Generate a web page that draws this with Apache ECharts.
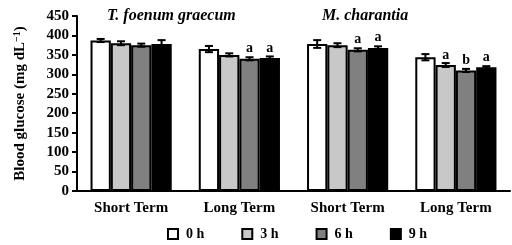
<!DOCTYPE html>
<html>
<head>
<meta charset="utf-8">
<script src="https://cdn.jsdelivr.net/npm/echarts@6/dist/echarts.min.js"></script>
<style>
  html, body { margin: 0; padding: 0; background: #fff; }
  #chart { width: 512px; height: 245px; }
</style>
</head>
<body>
<div id="chart"></div>
<script>
const categories = ["Short Term", "Long Term", "Short Term", "Long Term"];
const times = ["0 h", "3 h", "6 h", "9 h"];
const yTicks = [0, 50, 100, 150, 200, 250, 300, 350, 400, 450];

// mean blood glucose per time point, one value per group
const h0 = [387, 365, 378, 344];
const h3 = [380, 350, 375, 324];
const h6 = [375, 340, 363, 310];
const h9 = [378, 342, 368, 318];
// standard errors
const se0 = [4, 8, 10, 8];
const se3 = [5, 4, 5, 5];
const se6 = [4, 4, 4, 4];
const se9 = [10, 4, 4, 3];
// significance letters
const let0 = ["", "", "", ""];
const let3 = ["", "", "", "a"];
const let6 = ["", "a", "a", "b"];
const let9 = ["", "a", "a", "a"];

const means = [h0, h3, h6, h9];
const errs = [se0, se3, se6, se9];
const letters = [let0, let3, let6, let9];
const colors = ["#ffffff", "#c8c8c8", "#808080", "#000000"];

const font = "'Liberation Serif', 'DejaVu Serif', serif";
const catGap = 0.25;

const chart = echarts.init(document.getElementById("chart"));

const barSeries = times.map((t, i) => ({
  name: t,
  type: "bar",
  barGap: "0%",
  barCategoryGap: catGap * 100 + "%",
  itemStyle: { color: colors[i], borderColor: "#000", borderWidth: 2 },
  label: {
    show: true,
    position: "top",
    distance: 3,
    fontFamily: font,
    fontWeight: "bold",
    fontSize: 14,
    color: "#000",
    formatter: (p) => letters[i][p.dataIndex],
  },
  data: means[i],
}));

// error bar data: [category, series index, mean, se]
const errData = [];
means.forEach((arr, i) => {
  arr.forEach((v, c) => errData.push([c, i, v, errs[i][c]]));
});

const errSeries = {
  type: "custom",
  z: 10,
  silent: true,
  data: errData,
  encode: { x: 0, y: 2 },
  renderItem(params, api) {
    const c = api.value(0);
    const i = api.value(1);
    const v = api.value(2);
    const se = api.value(3);
    const catW = api.size([1, 0])[0];
    const groupW = catW * (1 - catGap);
    const bw = groupW / 4;
    const center = api.coord([c, v]);
    const x = center[0] - groupW / 2 + bw * (i + 0.5);
    const yHi = api.coord([c, v + se])[1];
    const yLo = api.coord([c, v - se])[1];
    const cap = 4;
    const style = { stroke: "#000", lineWidth: 2 };
    return {
      type: "group",
      children: [
        { type: "line", shape: { x1: x, y1: yHi, x2: x, y2: yLo }, style },
        { type: "line", shape: { x1: x - cap, y1: yHi, x2: x + cap, y2: yHi }, style },
        { type: "line", shape: { x1: x - cap, y1: yLo, x2: x + cap, y2: yLo }, style },
      ],
    };
  },
};

chart.setOption({
  animation: false,
  title: [
    {
      text: "T. foenum graecum",
      left: 102,
      top: 3,
      textStyle: { fontFamily: font, fontStyle: "italic", fontWeight: "bold", fontSize: 16, color: "#000" },
    },
    {
      text: "M. charantia",
      left: 317,
      top: 3,
      textStyle: { fontFamily: font, fontStyle: "italic", fontWeight: "bold", fontSize: 16, color: "#000" },
    },
  ],
  legend: {
    data: times,
    left: 162,
    top: 222,
    itemWidth: 10,
    itemHeight: 10,
    itemGap: 37,
    icon: "rect",
    itemStyle: { borderColor: "#000", borderWidth: 2 },
    textStyle: { fontFamily: font, fontWeight: "bold", fontSize: 14, color: "#000", padding: [0, 0, 0, 3] },
  },
  grid: { left: 77, right: 2, top: 16, bottom: 54 },
  xAxis: {
    type: "category",
    data: categories,
    axisLine: { lineStyle: { color: "#000", width: 2 } },
    axisTick: { show: false },
    axisLabel: { fontFamily: font, fontWeight: "bold", fontSize: 15, color: "#000", margin: 10 },
  },
  yAxis: {
    type: "value",
    min: yTicks[0],
    max: yTicks[yTicks.length - 1],
    interval: 50,
    name: "{a|Blood glucose (mg dL}{s|−1}{a|)}",
    nameLocation: "middle",
    nameGap: 48,
    nameTextStyle: {
      rich: {
        a: { fontFamily: font, fontWeight: "bold", fontSize: 15, color: "#000" },
        s: { fontFamily: font, fontWeight: "bold", fontSize: 10, color: "#000", verticalAlign: "top", padding: [0, 0, 7, 0] },
      },
    },
    axisLine: { show: true, lineStyle: { color: "#000", width: 2 } },
    axisTick: { show: true, length: 5, lineStyle: { color: "#000", width: 2 } },
    axisLabel: { fontFamily: font, fontWeight: "bold", fontSize: 15, color: "#000", margin: 8 },
    splitLine: { show: false },
  },
  series: [...barSeries, errSeries],
});
</script>
</body>
</html>
